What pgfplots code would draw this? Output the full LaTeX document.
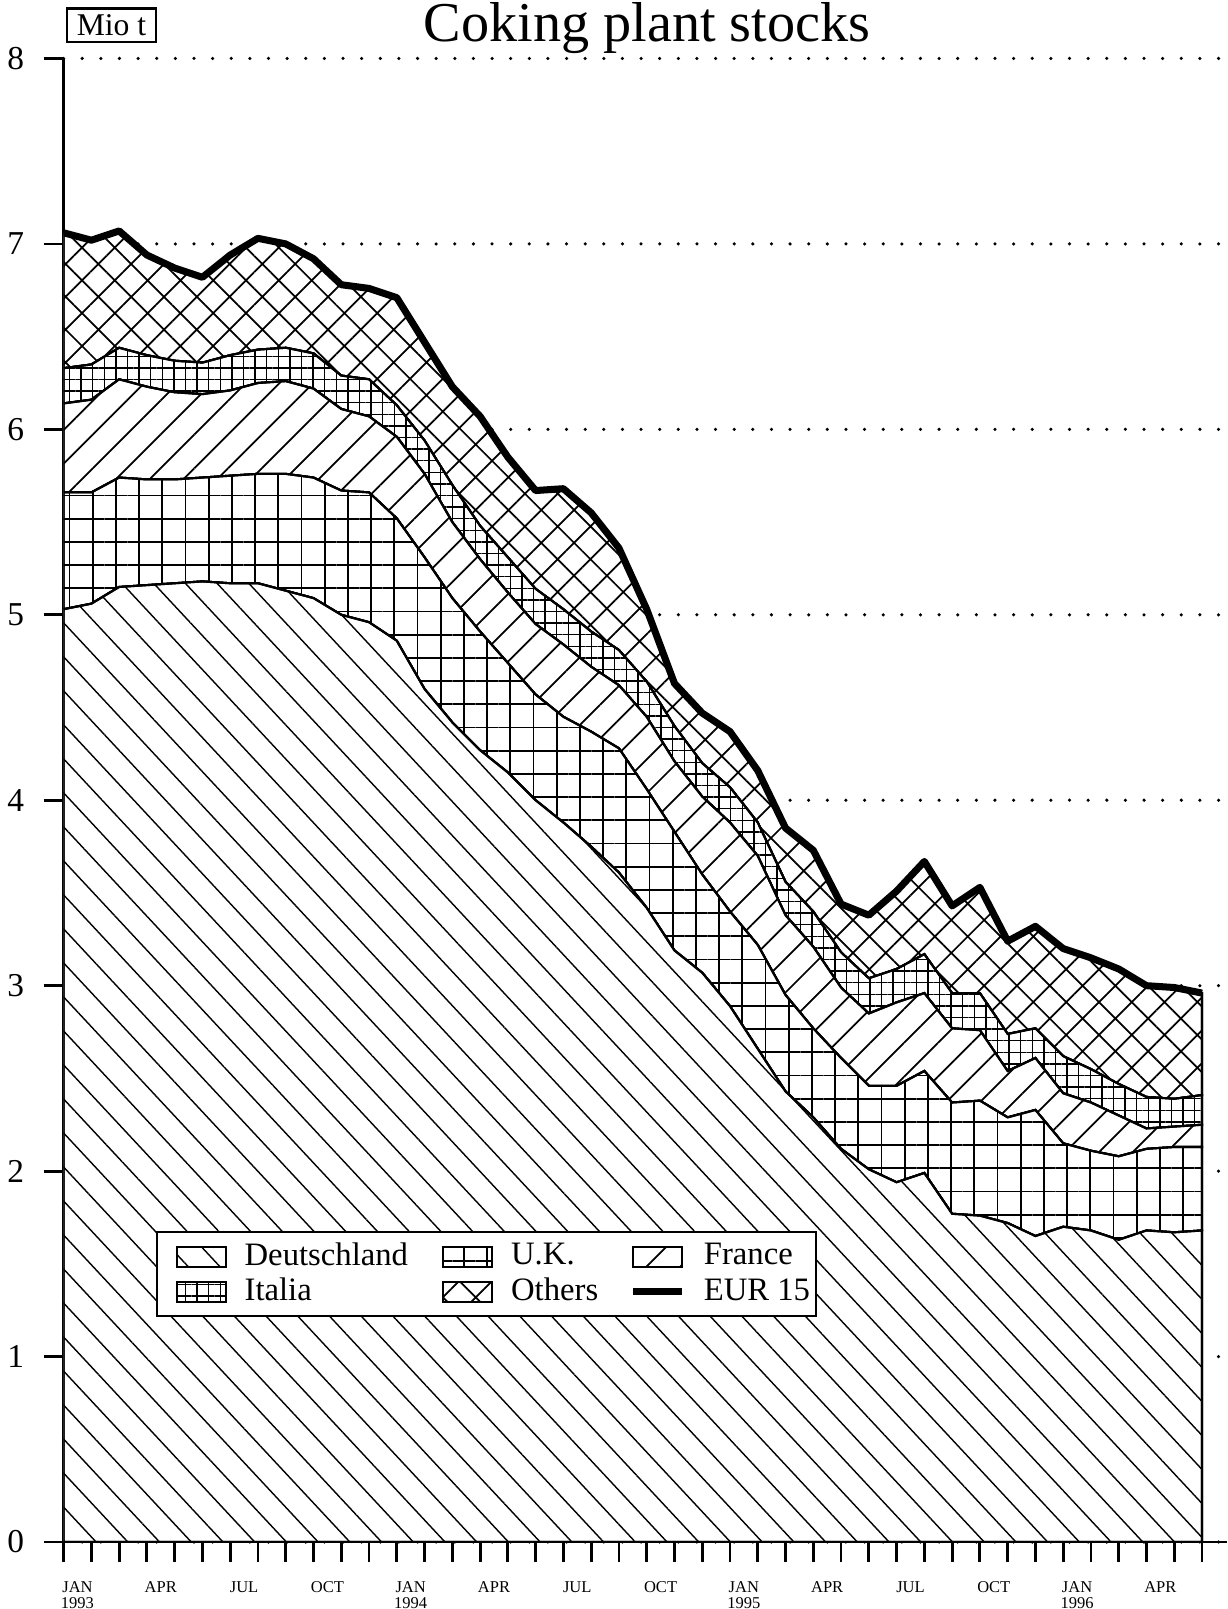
\documentclass[border=0pt]{standalone}
\usepackage{fontspec}
\setmainfont{Liberation Serif}
\usepackage{pgfplots}
\pgfplotsset{compat=1.18}
\usepackage{pgfplotstable}
\usetikzlibrary{patterns.meta}
\pgfplotsset{eurline/.style={legend image code/.code={\path (0cm,0cm); \draw[line width=2pt,black] (0.125cm,0cm) -- (0.615cm,0cm);}}}

\pgfplotstableread{
x D UK FR IT OT EUR
0 5.03 0.63 0.48 0.19 0.73 7.06
1 5.06 0.60 0.50 0.19 0.67 7.02
2 5.15 0.59 0.53 0.17 0.63 7.07
3 5.16 0.57 0.50 0.17 0.54 6.94
4 5.17 0.56 0.47 0.17 0.50 6.87
5 5.18 0.56 0.45 0.17 0.46 6.82
6 5.17 0.58 0.46 0.19 0.54 6.94
7 5.17 0.59 0.49 0.18 0.60 7.03
8 5.13 0.63 0.50 0.18 0.56 7.00
9 5.09 0.65 0.48 0.19 0.51 6.92
10 5.00 0.67 0.44 0.18 0.49 6.78
11 4.96 0.70 0.41 0.20 0.49 6.76
12 4.86 0.66 0.44 0.17 0.58 6.71
13 4.60 0.71 0.45 0.18 0.53 6.47
14 4.42 0.67 0.41 0.20 0.53 6.23
15 4.27 0.64 0.39 0.18 0.59 6.07
16 4.15 0.59 0.38 0.19 0.54 5.85
17 4.00 0.57 0.38 0.19 0.53 5.67
18 3.88 0.57 0.39 0.19 0.65 5.68
19 3.75 0.62 0.35 0.19 0.64 5.55
20 3.61 0.67 0.34 0.19 0.55 5.36
21 3.42 0.64 0.39 0.19 0.39 5.03
22 3.19 0.64 0.38 0.19 0.23 4.63
23 3.07 0.53 0.42 0.18 0.27 4.47
24 2.89 0.51 0.48 0.19 0.30 4.37
25 2.66 0.56 0.48 0.18 0.28 4.16
26 2.43 0.52 0.43 0.18 0.29 3.85
27 2.29 0.48 0.44 0.19 0.33 3.73
28 2.12 0.49 0.38 0.19 0.26 3.44
29 2.01 0.45 0.39 0.19 0.34 3.38
30 1.94 0.52 0.45 0.18 0.42 3.51
31 1.99 0.55 0.42 0.21 0.50 3.67
32 1.77 0.60 0.40 0.19 0.47 3.43
33 1.76 0.62 0.38 0.20 0.57 3.53
34 1.72 0.57 0.25 0.20 0.50 3.24
35 1.65 0.68 0.28 0.16 0.55 3.32
36 1.70 0.45 0.27 0.20 0.58 3.20
37 1.68 0.43 0.26 0.18 0.60 3.15
38 1.63 0.45 0.22 0.17 0.62 3.09
39 1.68 0.44 0.11 0.17 0.60 3.00
40 1.67 0.46 0.11 0.15 0.60 2.99
41 1.68 0.45 0.12 0.16 0.55 2.96
}\data

\begin{document}
\begin{tikzpicture}
\useasboundingbox (-0.636cm,-0.67cm) rectangle (11.634cm,15.42cm);
\begin{axis}[
  width=11.634cm, height=14.835cm, scale only axis,
  xmin=0, xmax=41.9, ymin=0, ymax=8,
  axis lines=left, axis line style={-, line width=0.8pt},
  xtick={0,...,41}, xticklabels={},
  ytick={0,...,8},
  tick align=outside, major tick length=0.2cm,
  tick style={line width=0.8pt, black},
  ymajorgrids,
  grid style={line width=1pt, line cap=round, dash pattern=on 0pt off 5.3pt, black},
  /pgf/number format/assume math mode=true,
  yticklabel style={font=\fontsize{9.5}{10}\selectfont, xshift=-0.07cm},
  extra x ticks={0.5,3.5,6.5,9.5,12.5,15.5,18.5,21.5,24.5,27.5,30.5,33.5,36.5,39.5},
  extra x tick labels={{JAN\\1993},APR,JUL,OCT,{JAN\\1994},APR,JUL,OCT,{JAN\\1995},APR,JUL,OCT,{JAN\\1996},APR},
  extra x tick style={xmajorgrids=false, major tick length=0pt,
    tick label style={align=center, font=\fontsize{4.7}{4.7}\selectfont, yshift=-0.27cm}},
  stack plots=y,
  legend columns=3,
  legend image code/.code={\path (0cm,0cm); \draw[#1] (0.125cm,-0.1cm) rectangle (0.615cm,0.1cm);},
  legend style={at={(0.0794,0.2094)}, anchor=north west, draw=black, line width=0.6pt,
    fill=white, font=\fontsize{9.3}{10}\selectfont, inner xsep=0.06cm, inner ysep=0.07cm,
    nodes={inner ysep=1pt, inner xsep=0pt},
    /tikz/row sep=0cm,
    /tikz/every odd column/.append style={column sep=0.18cm},
    /tikz/every even column/.append style={column sep=0.215cm},
    cells={anchor=west}},
]
\addplot[draw=black, line width=0.6pt, fill=white,
  postaction={pattern={Lines[angle=-47,distance=6.6pt,line width=0.4pt]}}]
  table[x=x,y=D]{\data} \closedcycle;
\addlegendentry{Deutschland}
\addplot[draw=black, line width=0.6pt, fill=white,
  postaction={pattern={Hatch[angle=0,distance=6.6pt,line width=0.5pt]}}]
  table[x=x,y=UK]{\data} \closedcycle;
\addlegendentry{U.K.}
\addplot[draw=black, line width=0.6pt, fill=white,
  postaction={pattern={Lines[angle=45,distance=6.8pt,line width=0.5pt]}}]
  table[x=x,y=FR]{\data} \closedcycle;
\addlegendentry{France}
\addplot[draw=black, line width=0.6pt, fill=white,
  postaction={pattern={Hatch[angle=0,distance=3.3pt,line width=0.4pt]}}]
  table[x=x,y=IT]{\data} \closedcycle;
\addlegendentry{Italia}
\addplot[draw=black, line width=0.6pt, fill=white,
  postaction={pattern={Hatch[angle=45,distance=6.6pt,line width=0.5pt]}}]
  table[x=x,y=OT]{\data} \closedcycle;
\addlegendentry{Others}
\addlegendimage{eurline}
\addlegendentry{EUR 15}
\end{axis}
\begin{axis}[
  width=11.634cm, height=14.835cm, scale only axis,
  xmin=0, xmax=41.9, ymin=0, ymax=8, hide axis]
\addplot[line width=2pt, line join=round, black] table[x=x,y=EUR]{\data};
\end{axis}
\node[anchor=base, font=\fontsize{16}{19}\selectfont] at (5.835cm,15.0cm) {Coking plant stocks};
\node[draw, line width=0.6pt, inner xsep=2.7pt, inner ysep=1.8pt, font=\fontsize{9}{10}\selectfont] at (0.479cm,15.165cm) {Mio t};
\end{tikzpicture}
\end{document}
